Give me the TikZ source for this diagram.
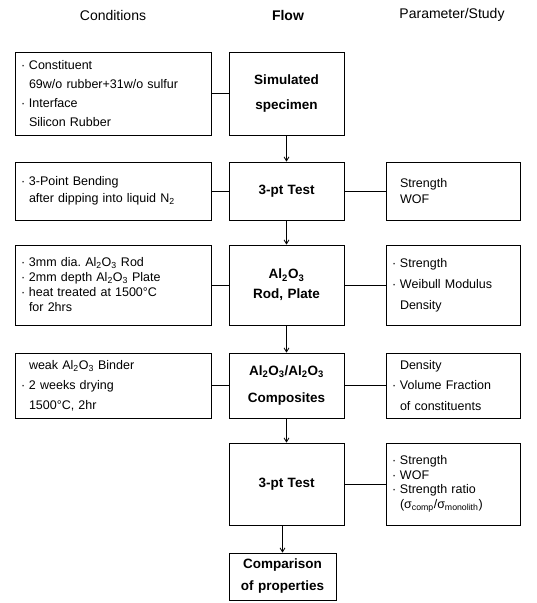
\documentclass[tikz,border=0pt]{standalone}
\usepackage{fontspec}
\setmainfont{Liberation Sans}
\usetikzlibrary{arrows.meta}
\frenchspacing
\newcommand{\itm}{\makebox[8pt][l]{·}}
\newcommand{\cnt}{\hspace*{8pt}}
\newcommand{\alo}{Al\textsubscript{2}O\textsubscript{3}}
\begin{document}
\begin{tikzpicture}[x=1pt,y=-1pt,line width=0.8pt,
  head/.style={font=\fontsize{14}{16}\selectfont},
  lead/.style={font=\fontsize{12.5}{#1}\selectfont},
  blead/.style={font=\fontsize{13.5}{#1}\selectfont\bfseries},
  cond/.style={draw,align=left,text width=184pt,inner xsep=6pt,inner ysep=2pt},
  para/.style={draw,align=left,text width=122pt,inner xsep=6pt,inner ysep=2pt},
  flow/.style={draw,align=center,text width=103pt,inner xsep=6pt,inner ysep=2pt},
  >={Straight Barb[length=4pt,width=5pt]}]
\useasboundingbox (0,0) rectangle (537,603);
% column titles
\node[head] (tc) at (113,15) {Conditions};
\node[head] (tf) at (288,15) {\textbf{Flow}};
\node[head] (tp) at (452,15) {Parameter/Study};
% flow column
\node[flow,minimum height=83pt,blead=25] (f1) at (286.5,93.5) {Simulated\\specimen};
\node[flow,minimum height=58pt,blead=16] (f2) at (286.5,191) {3-pt Test};
\node[flow,minimum height=80pt,blead=20] (f3) at (286.5,285) {\alo\\Rod, Plate};
\node[flow,minimum height=65pt,blead=27] (f4) at (286.5,385.5) {\alo/\alo\\Composites};
\node[flow,minimum height=82pt,blead=16] (f5) at (286.5,484) {3-pt Test};
\node[flow,text width=95pt,minimum height=47pt,blead=22] (f6) at (282.5,576.5) {Comparison\\of properties};
% conditions column
\node[cond,minimum height=83pt,lead=18.7] (c1) at (113,93.5)
  {\itm Constituent\\\cnt 69w/o rubber+31w/o sulfur\\\itm Interface\\\cnt Silicon Rubber};
\node[cond,minimum height=58pt,lead=17] (c2) at (113,191)
  {\itm 3-Point Bending\\\cnt after dipping into liquid N\textsubscript{2}};
\node[cond,minimum height=80pt,lead=15] (c3) at (113,285)
  {\itm 3mm dia. \alo{} Rod\\\itm 2mm depth \alo{} Plate\\\itm heat treated at 1500°C\\\cnt for 2hrs};
\node[cond,minimum height=65pt,lead=20] (c4) at (113,385.5)
  {\cnt weak \alo{} Binder\\\itm 2 weeks drying\\\cnt 1500°C, 2hr};
% parameter column
\node[para,minimum height=58pt,lead=16] (p2) at (453,191)
  {\cnt Strength\\\cnt WOF};
\node[para,minimum height=80pt,lead=21] (p3) at (453,285)
  {\itm Strength\\\itm Weibull Modulus\\\cnt Density};
\node[para,minimum height=65pt,lead=20.5] (p4) at (453,385.5)
  {\cnt Density\\\itm Volume Fraction\\\cnt of constituents};
\node[para,minimum height=82pt,lead=14.5] (p5) at (453,484)
  {\itm Strength\\\itm WOF\\\itm Strength ratio\\\cnt (σ\textsubscript{comp}/σ\textsubscript{monolith})};
% connectors
\draw[->] (f1) -- (f2);
\draw[->] (f2) -- (f3);
\draw[->] (f3) -- (f4);
\draw[->] (f4) -- (f5);
\draw[->] (f5.south -| f6.north) -- (f6.north);
\draw (c1) -- (f1);
\draw (c2) -- (f2);
\draw (c3) -- (f3);
\draw (c4) -- (f4);
\draw (f2) -- (p2);
\draw (f3) -- (p3);
\draw (f4) -- (p4);
\draw (f5) -- (p5);
\end{tikzpicture}
\end{document}
